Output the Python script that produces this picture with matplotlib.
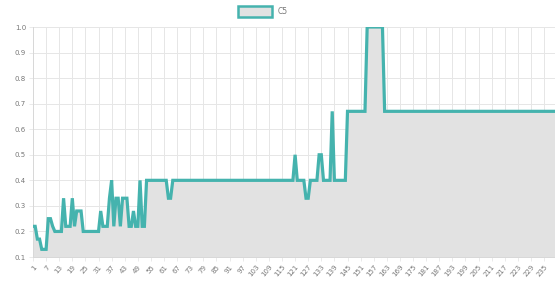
import matplotlib
matplotlib.use("Agg")
import matplotlib.pyplot as plt
from matplotlib.patches import Rectangle

series_name = "C5"
labels = [str(i) for i in range(1, 241)]
values = [
    0.22, 0.22, 0.17, 0.17, 0.13, 0.13, 0.13, 0.25, 0.25, 0.22,
    0.20, 0.20, 0.20, 0.20, 0.33, 0.22, 0.22, 0.22, 0.33, 0.22,
    0.28, 0.28, 0.28, 0.20, 0.20, 0.20, 0.20, 0.20, 0.20, 0.20,
    0.20, 0.28, 0.22, 0.22, 0.22, 0.33, 0.40, 0.22, 0.33, 0.33,
    0.22, 0.33, 0.33, 0.33, 0.22, 0.22, 0.28, 0.22, 0.22, 0.40,
    0.22, 0.22, 0.40, 0.40, 0.40, 0.40, 0.40, 0.40, 0.40, 0.40,
    0.40, 0.40, 0.33, 0.33, 0.40, 0.40, 0.40, 0.40, 0.40, 0.40,
    0.40, 0.40, 0.40, 0.40, 0.40, 0.40, 0.40, 0.40, 0.40, 0.40,
    0.40, 0.40, 0.40, 0.40, 0.40, 0.40, 0.40, 0.40, 0.40, 0.40,
    0.40, 0.40, 0.40, 0.40, 0.40, 0.40, 0.40, 0.40, 0.40, 0.40,
    0.40, 0.40, 0.40, 0.40, 0.40, 0.40, 0.40, 0.40, 0.40, 0.40,
    0.40, 0.40, 0.40, 0.40, 0.40, 0.40, 0.40, 0.40, 0.40, 0.40,
    0.50, 0.40, 0.40, 0.40, 0.40, 0.33, 0.33, 0.40, 0.40, 0.40,
    0.40, 0.50, 0.50, 0.40, 0.40, 0.40, 0.40, 0.67, 0.40, 0.40,
    0.40, 0.40, 0.40, 0.40, 0.67, 0.67, 0.67, 0.67, 0.67, 0.67,
    0.67, 0.67, 0.67, 1.00, 1.00, 1.00, 1.00, 1.00, 1.00, 1.00,
    1.00, 0.67, 0.67, 0.67, 0.67, 0.67, 0.67, 0.67, 0.67, 0.67,
    0.67, 0.67, 0.67, 0.67, 0.67, 0.67, 0.67, 0.67, 0.67, 0.67,
    0.67, 0.67, 0.67, 0.67, 0.67, 0.67, 0.67, 0.67, 0.67, 0.67,
    0.67, 0.67, 0.67, 0.67, 0.67, 0.67, 0.67, 0.67, 0.67, 0.67,
    0.67, 0.67, 0.67, 0.67, 0.67, 0.67, 0.67, 0.67, 0.67, 0.67,
    0.67, 0.67, 0.67, 0.67, 0.67, 0.67, 0.67, 0.67, 0.67, 0.67,
    0.67, 0.67, 0.67, 0.67, 0.67, 0.67, 0.67, 0.67, 0.67, 0.67,
    0.67, 0.67, 0.67, 0.67, 0.67, 0.67, 0.67, 0.67, 0.67, 0.67,
]
y_ticks = [0.1, 0.2, 0.3, 0.4, 0.5, 0.6, 0.7, 0.8, 0.9, 1.0]
label_step = 6

line_color = "#45b3ae"
fill_color = "#e2e2e2"
grid_color = "#e6e6e6"
text_color = "#777777"

fig = plt.figure(figsize=(5.55, 2.89), dpi=100)
ax = fig.add_axes([33/555, 32/289, 1 - 33/555, 230/289])

x = list(range(len(values)))
ax.fill_between(x, values, 0, color=fill_color, zorder=1, linewidth=0)
ax.plot(x, values, color=line_color, linewidth=2.3, zorder=3,
        solid_joinstyle="miter")

ax.set_xlim(0, len(values) - 1)
ax.set_ylim(0.1, 1.0)
ax.set_yticks(y_ticks)
ax.set_yticklabels([f"{v:.1f}" for v in y_ticks])
tick_pos = x[::label_step]
ax.set_xticks(tick_pos)
ax.set_xticklabels([labels[i] for i in tick_pos], rotation=50,
                   ha="right", rotation_mode="anchor")
ax.tick_params(axis="both", labelsize=5, colors=text_color, length=3,
               width=0.6, pad=2)
ax.tick_params(axis="both", color=grid_color)
ax.grid(True, color=grid_color, linewidth=0.7, zorder=0)
ax.set_axisbelow(True)
for side in ["top", "right"]:
    ax.spines[side].set_visible(False)
for side in ["left", "bottom"]:
    ax.spines[side].set_color("#d8d8d8")
    ax.spines[side].set_linewidth(0.7)

# legend
fig.patches.append(Rectangle((238/555, 1 - 17/289), 34/555, 11/289,
                             transform=fig.transFigure, facecolor=fill_color,
                             edgecolor=line_color, linewidth=1.8))
fig.text(278/555, 1 - 11.5/289, series_name, fontsize=5.5, color=text_color,
         va="center", ha="left")

fig.savefig("out.png", dpi=100)
